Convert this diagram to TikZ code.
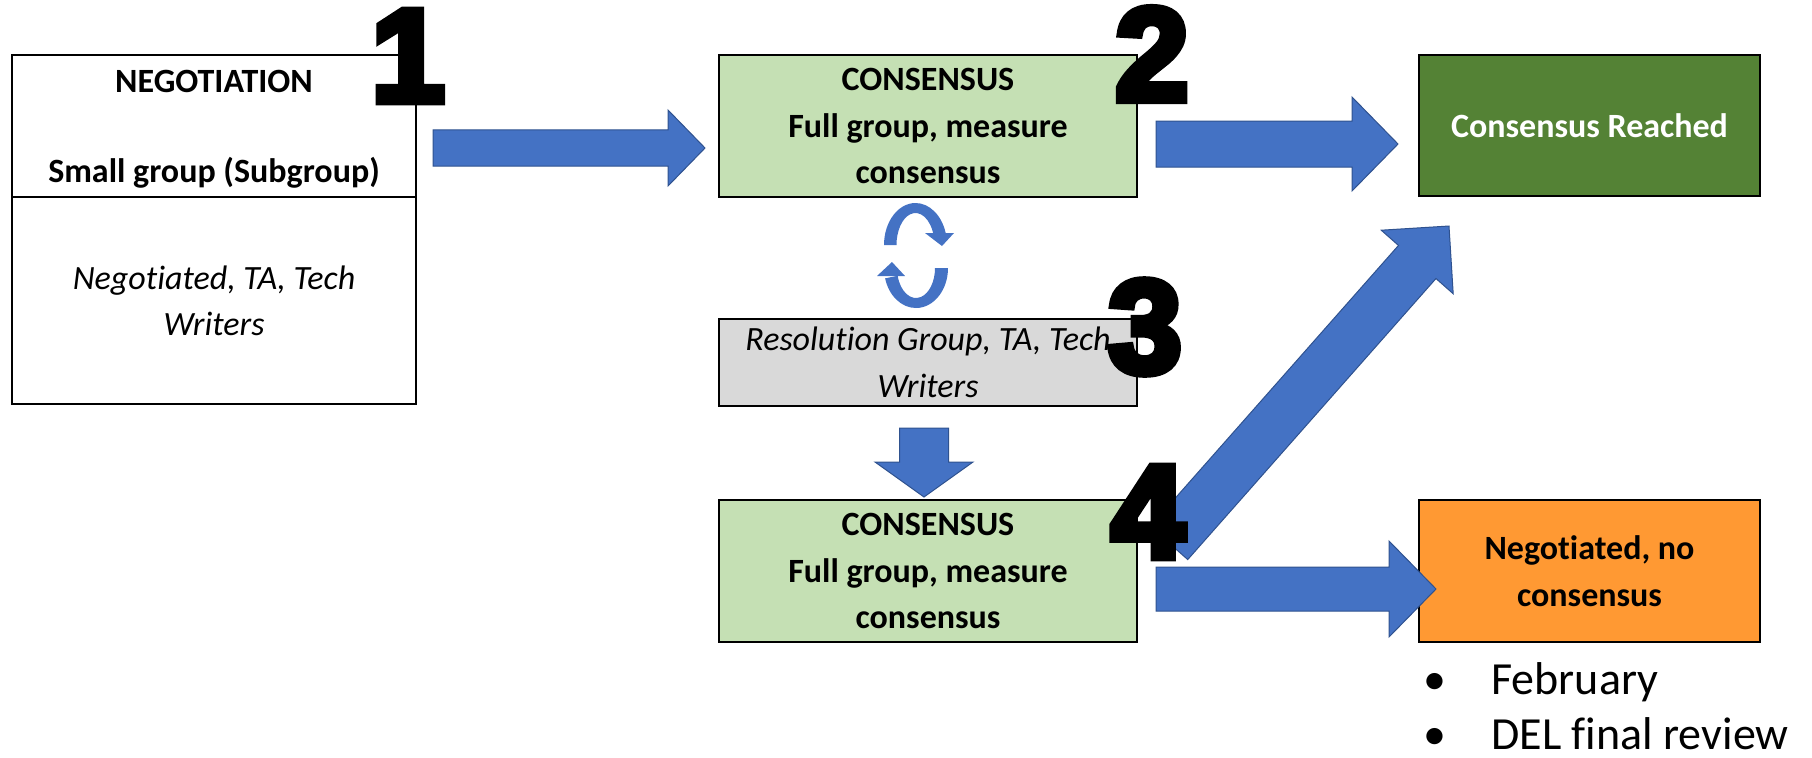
\documentclass[tikz,border=0pt]{standalone}
\usepackage{fontspec}
\setmainfont{Carlito}[Ligatures={NoCommon,NoContextual}, RawFeature={-liga;-clig;-calt}]
\newfontfamily\bigdigit{Liberation Sans}[BoldFeatures={FakeBold=6}]
\usetikzlibrary{calc}
\definecolor{arrowblue}{HTML}{4472C4}
\definecolor{arrowedge}{HTML}{2F528F}
\definecolor{lightgreen}{HTML}{C5E0B4}
\definecolor{darkgreen}{HTML}{548235}
\definecolor{boxorange}{HTML}{FF9933}
\definecolor{boxgray}{HTML}{D9D9D9}
\newcommand\nolig{\kern0pt }
% #1 from, #2 to, #3 body half width, #4 head half width, #5 head length, #6 name
\newcommand\blockarrow[6]{%
  \path ($(#2)!#5!(#1)$) coordinate (#6h);
  \filldraw[barrow] ($(#1)!#3!90:(#2)$) -- ($(#6h)!#3!90:(#2)$) -- ($(#6h)!#4!90:(#2)$) -- (#2)
    -- ($(#6h)!#4!-90:(#2)$) -- ($(#6h)!#3!-90:(#2)$) -- ($(#1)!#3!-90:(#2)$) -- cycle;}
\tikzset{
  box/.style={draw=black, line width=1pt, inner sep=0pt},
  boldtext/.style={font=\fontsize{17}{23.25}\selectfont\bfseries, inner sep=0pt},
  italtext/.style={font=\fontsize{17}{23.25}\selectfont\itshape, inner sep=0pt},
  barrow/.style={fill=arrowblue, draw=arrowedge, line width=0.5pt, line join=miter},
  circarrow/.style={fill=arrowblue},
  digit/.style={font=\bigdigit\bfseries\fontsize{66}{66}\selectfont, inner sep=0pt},
  bullettext/.style={font=\fontsize{23}{28}\selectfont, inner sep=0pt},
}
\begin{document}
\begin{tikzpicture}[x=0.5pt, y=-0.5pt]
\useasboundingbox (0,0) rectangle (1812,757);

% Negotiation box
\node[box, minimum width=202pt, minimum height=174.5pt] (neg) at (214,229.5) {};
\node[boldtext, anchor=base] (negtitle) at (214,92) {NEGOTIATION};
\node[boldtext, anchor=base] (negsub) at (214,182) {Small group (Subgroup)};
\coordinate (divy) at (0,197);
\draw[line width=0.6pt] (neg.west |- divy) -- (neg.east |- divy);
\node[italtext, anchor=base] (negital1) at (214,289) {Negot\nolig iated, TA, Tech};
\node[italtext, anchor=base] (negital2) at (214,335) {Writers};

% Consensus boxes
\node[box, fill=lightgreen, minimum width=209pt, minimum height=71pt, boldtext, align=center]
  (cons1) at (928,126) {CONSENSUS\\Full group, measure\\consensus};
\node[box, fill=boxgray, minimum width=209pt, minimum height=43.5pt, italtext, align=center]
  (res) at (928,362.5) {Resolut\nolig ion Group, TA, Tech\\Writers};
\node[box, fill=lightgreen, minimum width=209pt, minimum height=71pt, boldtext, align=center]
  (cons2) at (928,571) {CONSENSUS\\Full group, measure\\consensus};

% Outcome boxes
\node[box, fill=darkgreen, text=white, minimum width=170.5pt, minimum height=70.5pt, boldtext]
  (reached) at (1589.5,125.5) {Consensus Reached};
\node[box, fill=boxorange, minimum width=170.5pt, minimum height=71pt, boldtext, align=center]
  (nocons) at (1589.5,571) {Negot\nolig iated, no\\consensus};

% Block arrows
\coordinate (a1s) at (433,148);  \coordinate (a1e) at (705,148);
\coordinate (a2s) at (1156,144); \coordinate (a2e) at (1398,144);
\coordinate (a3s) at (924,428);  \coordinate (a3e) at (924,497);
\coordinate (a4s) at (1169,543); \coordinate (a4e) at (1449,226);
\coordinate (a5s) at (1156,589); \coordinate (a5e) at (1436,589);
\blockarrow{a1s}{a1e}{9.1pt}{19pt}{18.5pt}{a1}
\blockarrow{a2s}{a2e}{11.5pt}{23.5pt}{23pt}{a2}
\blockarrow{a3s}{a3e}{12.25pt}{24.5pt}{17.5pt}{a3}
\blockarrow{a4s}{a4e}{12.5pt}{24pt}{24pt}{a4}
\blockarrow{a5s}{a5e}{11pt}{24pt}{23.5pt}{a5}

% Circular arrows
\fill[circarrow] (884,245) arc[start angle=180, end angle=343, x radius=31.5, y radius=42]
  -- ($(915.5,245)+(343:19 and 32)$) arc[start angle=343, end angle=180, x radius=19, y radius=32] -- cycle;
\fill[circarrow] (925,233) -- (954,233) -- (942,246) -- cycle;
\fill[circarrow] (948,268) arc[start angle=0, end angle=165, x radius=32, y radius=40]
  -- ($(916,268)+(165:19 and 30)$) arc[start angle=165, end angle=0, x radius=19, y radius=30] -- cycle;
\fill[circarrow] (877,276) -- (905,276) -- (892,262) -- cycle;

% Bullets
\node[bullettext, anchor=base] (bul1) at (1435,694) {•};
\node[bullettext, anchor=base west] (feb) at (1491,694) {February};
\node[bullettext, anchor=base] (bul2) at (1435,749) {•};
\node[bullettext, anchor=base west] (del) at (1491,749) {DEL final review};

% Big step numbers
\node[digit] (n1) at (408,56) {1};
\node[digit] (n2) at (1152,54) {2};
\node[digit] (n3) at (1145,327) {3};
\node[digit] (n4) at (1148,512) {4};
\end{tikzpicture}
\end{document}
